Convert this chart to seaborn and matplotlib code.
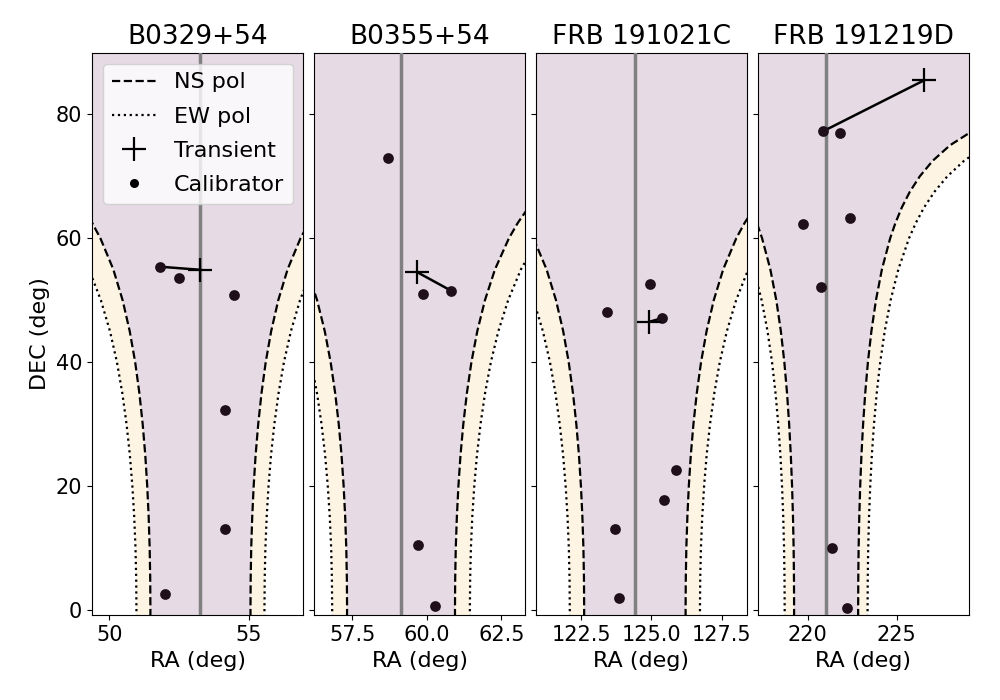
import numpy as np
import matplotlib
matplotlib.use("Agg")
import matplotlib.pyplot as plt
import seaborn as sns
from matplotlib.lines import Line2D

# panels
names = ["B0329+54", "B0355+54", "FRB 191021C", "FRB 191219D"]
centre_ra = [53.26, 59.13, 124.41, 221.03]
ra_limits = [(49.38, 56.93), (56.21, 63.29), (120.90, 128.39), (217.20, 229.06)]

# beam half widths at DEC 0 (deg of RA)
ns_halfwidth = [1.79, 1.81, 1.80, 1.80]
ew_halfwidth = [2.29, 2.31, 2.31, 2.33]

# widening of the beam with DEC
beam_dec = [-5, 0, 5, 10, 15, 20, 25, 30, 35, 40, 45, 50, 55, 60, 62.5, 65, 67.5,
            70, 72.5, 75, 77.5, 80, 82.5, 85, 87.5, 90]
beam_stretch = [1.004, 1.000, 1.004, 1.015, 1.035, 1.064, 1.103, 1.155, 1.221, 1.305,
                1.414, 1.556, 1.743, 2.000, 2.166, 2.366, 2.613, 2.924, 3.326,
                3.864, 4.620, 5.759, 7.661, 11.47, 22.93, 40.0]

# transients and the calibrator each one is tied to
transient_ra = [53.26, 59.68, 124.92, 226.53]
transient_dec = [54.9, 54.5, 46.5, 85.5]
paired_ra = [51.82, 60.82, 125.38, 220.84]
paired_dec = [55.4, 51.5, 47.1, 77.25]

# calibrators
cal_ra = [
    [51.82, 52.48, 54.46, 54.14, 54.14, 52.00],
    [58.69, 59.88, 60.82, 59.71, 60.27],
    [123.42, 124.96, 125.38, 125.87, 125.45, 123.69, 123.86],
    [220.84, 221.79, 222.35, 219.73, 220.77, 221.34, 222.18],
]
cal_dec = [
    [55.4, 53.6, 50.8, 32.3, 13.1, 2.5],
    [73.0, 51.0, 51.5, 10.5, 0.65],
    [48.1, 52.6, 47.1, 22.5, 17.8, 13.1, 1.9],
    [77.25, 77.0, 63.3, 62.35, 52.1, 10.0, 0.3],
]

purple = "#e6dbe4"
yellow = "#fdf4e3"
dot = "#1f0f1a"


def draw_panel(ax, i):
    dec = np.array(beam_dec)
    stretch = np.array(beam_stretch)
    c = centre_ra[i]
    ew = ew_halfwidth[i] * stretch
    ns = ns_halfwidth[i] * stretch

    ax.fill_betweenx(dec, c - ew, c + ew, color=yellow, lw=0, zorder=0)
    ax.fill_betweenx(dec, c - ns, c + ns, color=purple, lw=0, zorder=1)
    for side in (-1, 1):
        ax.plot(c + side * ns, dec, color="black", ls="--", lw=1.6, zorder=2)
        ax.plot(c + side * ew, dec, color="black", ls=":", lw=1.6, zorder=2)

    ax.axvline(c, color="grey", lw=2.5, zorder=3)
    ax.plot([transient_ra[i], paired_ra[i]], [transient_dec[i], paired_dec[i]],
            color="black", lw=1.8, zorder=4)
    sns.scatterplot(x=cal_ra[i], y=cal_dec[i], ax=ax, color=dot, s=60,
                    linewidth=0, zorder=5)
    sns.scatterplot(x=[transient_ra[i]], y=[transient_dec[i]], ax=ax,
                    marker="+", color="black", s=280, linewidth=1.6, zorder=6)

    ax.set_xlim(*ra_limits[i])
    ax.set_ylim(-0.9, 90)
    ax.set_title(names[i], fontsize=19)
    ax.set_xlabel("RA (deg)", fontsize=16)
    ax.tick_params(labelsize=15)


fig, axes = plt.subplots(1, 4, figsize=(10, 7), sharey=True)
plt.subplots_adjust(left=0.092, right=0.969, bottom=0.121, top=0.925, wspace=0.052)

for i, ax in enumerate(axes):
    draw_panel(ax, i)

axes[0].xaxis.set_major_locator(matplotlib.ticker.FixedLocator([50, 55]))
axes[1].xaxis.set_major_locator(matplotlib.ticker.FixedLocator([57.5, 60.0, 62.5]))
axes[2].xaxis.set_major_locator(matplotlib.ticker.FixedLocator([122.5, 125.0, 127.5]))
axes[3].xaxis.set_major_locator(matplotlib.ticker.FixedLocator([220, 225]))
axes[1].xaxis.set_major_formatter(matplotlib.ticker.FormatStrFormatter("%.1f"))
axes[2].xaxis.set_major_formatter(matplotlib.ticker.FormatStrFormatter("%.1f"))

axes[0].set_yticks([0, 20, 40, 60, 80])
axes[0].set_ylabel("DEC (deg)", fontsize=16)

handles = [
    Line2D([], [], color="black", ls="--", lw=1.6, label="NS pol"),
    Line2D([], [], color="black", ls=":", lw=1.6, label="EW pol"),
    Line2D([], [], color="black", ls="", marker="+", ms=17, mew=1.6, label="Transient"),
    Line2D([], [], color="black", ls="", marker="o", ms=6.5, mew=0, label="Calibrator"),
]
axes[0].legend(handles=handles, loc="upper left", fontsize=16, labelspacing=0.64)

plt.savefig("out.png", dpi=100)
